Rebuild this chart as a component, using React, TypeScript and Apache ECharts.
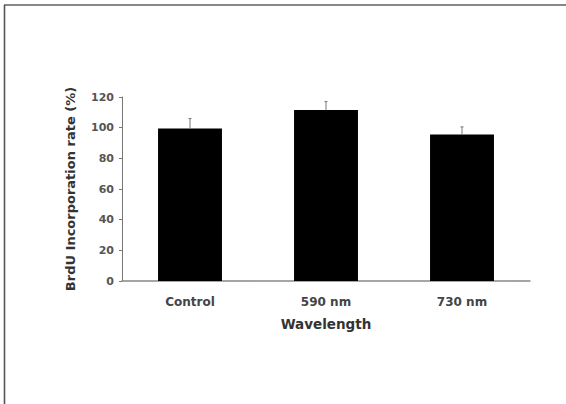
import React, { useEffect, useRef } from "react";
import * as echarts from "echarts";

const categories = ["Control", "590 nm", "730 nm"];
const values = [99.5, 111.5, 95.5];
const errors = [6.5, 5.5, 5];
const yTicks = [0, 20, 40, 60, 80, 100, 120];

const FONT = "DejaVu Sans";

export default function App() {
  const ref = useRef<HTMLDivElement>(null);
  useEffect(() => {
    const chart = echarts.init(ref.current!, null, { renderer: "svg" });
    const errData = values.map((v, i) => [i, v, v + errors[i]]);
    chart.setOption({
      animation: false,
      backgroundColor: "#fff",
      grid: { left: 122, right: 36, top: 97, bottom: 123 },
      graphic: [
        { type: "line", shape: { x1: 4, y1: 5, x2: 566, y2: 5 }, style: { stroke: "#111", lineWidth: 1.2 } },
        { type: "line", shape: { x1: 4.5, y1: 5, x2: 4.5, y2: 404 }, style: { stroke: "#555", lineWidth: 1.6 } },
      ],
      xAxis: {
        type: "category",
        data: categories,
        name: "Wavelength",
        nameLocation: "middle",
        nameGap: 36,
        nameTextStyle: { fontFamily: FONT, fontWeight: "bold", fontSize: 13.5, color: "#333" },
        axisLine: { lineStyle: { color: "#888", width: 1.5 } },
        axisTick: { show: false },
        axisLabel: { fontFamily: FONT, fontWeight: "bold", fontSize: 12, color: "#444", margin: 15 },
      },
      yAxis: {
        type: "value",
        min: 0,
        max: 120,
        interval: 20,
        name: "BrdU Incorporation rate (%)",
        nameLocation: "middle",
        nameGap: 45,
        nameTextStyle: { fontFamily: FONT, fontWeight: "bold", fontSize: 13, color: "#333" },
        splitLine: { show: false },
        axisLine: { show: true, lineStyle: { color: "#777", width: 1 } },
        axisTick: { show: true, length: 3, lineStyle: { color: "#777" } },
        axisLabel: {
          fontFamily: FONT,
          fontWeight: "bold",
          fontSize: 11,
          color: "#555",
          margin: 8,
          formatter: (v: number) => (yTicks.includes(v) ? String(v) : ""),
        },
      },
      series: [
        {
          type: "bar",
          data: values,
          barWidth: "47%",
          itemStyle: { color: "#000" },
        },
        {
          type: "custom",
          data: errData,
          z: 5,
          renderItem: (params: any, api: any) => {
            const i = api.value(0);
            const lo = api.coord([i, api.value(1)]);
            const hi = api.coord([i, api.value(2)]);
            return {
              type: "group",
              children: [
                { type: "line", shape: { x1: lo[0], y1: lo[1], x2: hi[0], y2: hi[1] }, style: { stroke: "#777", lineWidth: 1 } },
                { type: "line", shape: { x1: hi[0] - 1.5, y1: hi[1], x2: hi[0] + 1.5, y2: hi[1] }, style: { stroke: "#777", lineWidth: 1 } },
              ],
            };
          },
        },
      ],
    });
    return () => chart.dispose();
  }, []);
  return <div ref={ref} style={{ position: "fixed", left: 0, top: 0, width: 566, height: 404 }} />;
}
